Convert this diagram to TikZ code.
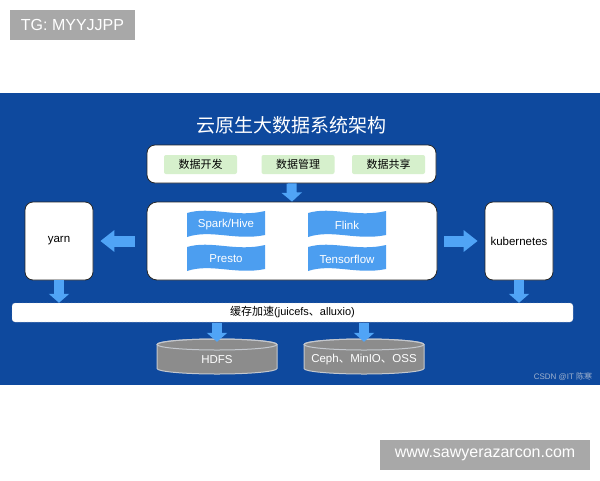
\documentclass[tikz,border=0pt]{standalone}
\usepackage{fontspec}
\setmainfont{Liberation Sans}
\newfontfamily\cjk{Noto Sans CJK SC}
\usepackage{tikz}
\usetikzlibrary{positioning,arrows.meta}

\definecolor{panelblue}{RGB}{14,73,158}
\definecolor{flagblue}{RGB}{76,158,240}
\definecolor{arrowblue}{RGB}{80,164,246}
\definecolor{taggray}{RGB}{168,168,168}
\definecolor{greenbox}{RGB}{214,240,204}
\definecolor{diskgray}{RGB}{140,140,140}
\definecolor{diskedge}{RGB}{196,200,206}
\definecolor{csdngray}{RGB}{160,178,206}

% flag label: name, x, y, text
\newcommand{\flagbox}[4]{%
\begin{scope}[shift={(#2,#3)}]
\fill[flagblue] (-39,-11) .. controls (-15,-18) and (10,-6) .. (39,-13)
  -- (39,11) .. controls (10,17) and (-15,5) .. (-39,13) -- cycle;
\end{scope}
\node[flagtext] (#1) at (#2,#3) {#4};}

% storage drum: name, x, y, text
\newcommand{\drum}[4]{%
\begin{scope}[shift={(#2,#3)}]
\filldraw[fill=diskgray,draw=diskedge,line width=1pt] (-60,-12) -- (-60,12)
  arc[start angle=180,end angle=0,x radius=60,y radius=5.5]
  -- (60,-12) arc[start angle=0,end angle=-180,x radius=60,y radius=5.5] -- cycle;
\draw[diskedge,line width=1pt] (0,-12) ellipse[x radius=60,y radius=5.5];
\end{scope}
\node[drumbox] (#1) at (#2,#3) {#4};}

\begin{document}
\begin{tikzpicture}[
x=1pt,y=-1pt,
whitebox/.style={
draw=black!85,
fill=white,
line width=0.8pt,
rounded corners=8pt
},
greenlabel/.style={
fill=greenbox,
rounded corners=2pt,
minimum width=73pt,
minimum height=19pt,
font=\cjk\fontsize{11}{13}\selectfont
},
sidebox/.style={
whitebox,
minimum width=68pt,
minimum height=78pt,
font=\fontsize{11.5}{13}\selectfont
},
flagtext/.style={
text=white,
inner sep=0pt,
yshift=-1pt,
font=\fontsize{11.5}{13}\selectfont
},
drumbox/.style={
text=white,
minimum width=120pt,
minimum height=35pt,
yshift=-3pt,
font=\fontsize{11.5}{13}\selectfont
},
tag/.style={
fill=taggray,
text=white,
inner sep=0pt,
minimum height=30pt,
font=\fontsize{16}{18}\selectfont
},
arrow/.style={-{Triangle[width=20pt,length=9pt]},line width=10pt,arrowblue},
sidearrow/.style={-{Triangle[width=21pt,length=14pt]},line width=11pt,arrowblue}
]

\useasboundingbox (0,0) rectangle (600,480);
\fill[white] (0,0) rectangle (600,480);

%---------------- Tags ----------------%

\node[tag,minimum width=125pt] (tg) at (72.5,25) {TG: MYYJJPP};

\node[tag,minimum width=210pt] (site) at (485,455) {www.sawyerazarcon.com};

%---------------- Panel ----------------%

\fill[panelblue] (0,93) rectangle (600,385);

\node[text=white,font=\cjk\fontsize{19}{22}\selectfont] (title) at (291,125)
{云原生大数据系统架构};

\node[whitebox,minimum width=289pt,minimum height=38pt] (apps) at (291.5,164) {};

\node[greenlabel] (dev) at (200.5,164.5) {数据开发};

\node[greenlabel] (manage) at (298,164.5) {数据管理};

\node[greenlabel] (share) at (388.5,164.5) {数据共享};

\node[whitebox,rounded corners=10pt,minimum width=290pt,minimum height=78pt] (engines) at (292,241) {};

\flagbox{spark}{226}{224}{Spark/Hive}
\flagbox{flink}{347}{224}{Flink}
\flagbox{presto}{226}{258}{Presto}
\flagbox{tensor}{347}{258}{Tensorflow}

\node[sidebox] (yarn) at (59,241) {yarn};

\node[sidebox] (kube) at (519,241) {kubernetes};

%---------------- Bottom ----------------%

\node[fill=white,draw=black!30,densely dotted,rounded corners=3pt,
minimum width=561pt,minimum height=19pt,font=\fontsize{11}{13}\selectfont] (cache) at (292.5,312.5)
{{\cjk 缓存加速}(juicefs{\cjk 、}alluxio)};

\drum{hdfs}{217}{356.5}{HDFS}
\drum{ceph}{364}{356.5}{Ceph{\cjk 、}MinIO{\cjk 、}OSS}

\node[text=csdngray,font=\fontsize{8}{9}\selectfont] (csdn) at (563,377) {CSDN @IT {\cjk 陈寒}};

%---------------- Connections ----------------%

\draw[arrow] (apps.south)--(engines.north);

\draw[sidearrow,shorten <=12pt,shorten >=7pt] (engines.west)--(yarn.east);
\draw[sidearrow,shorten <=7pt,shorten >=7pt] (engines.east)--(kube.west);

\draw[arrow] (yarn.south)--(yarn.south |- cache.north);
\draw[arrow] (kube.south)--(kube.south |- cache.north);

\draw[arrow,shorten <=1pt] (hdfs.north |- cache.south)--(hdfs.north);
\draw[arrow,shorten <=1pt] (ceph.north |- cache.south)--(ceph.north);

\end{tikzpicture}
\end{document}
